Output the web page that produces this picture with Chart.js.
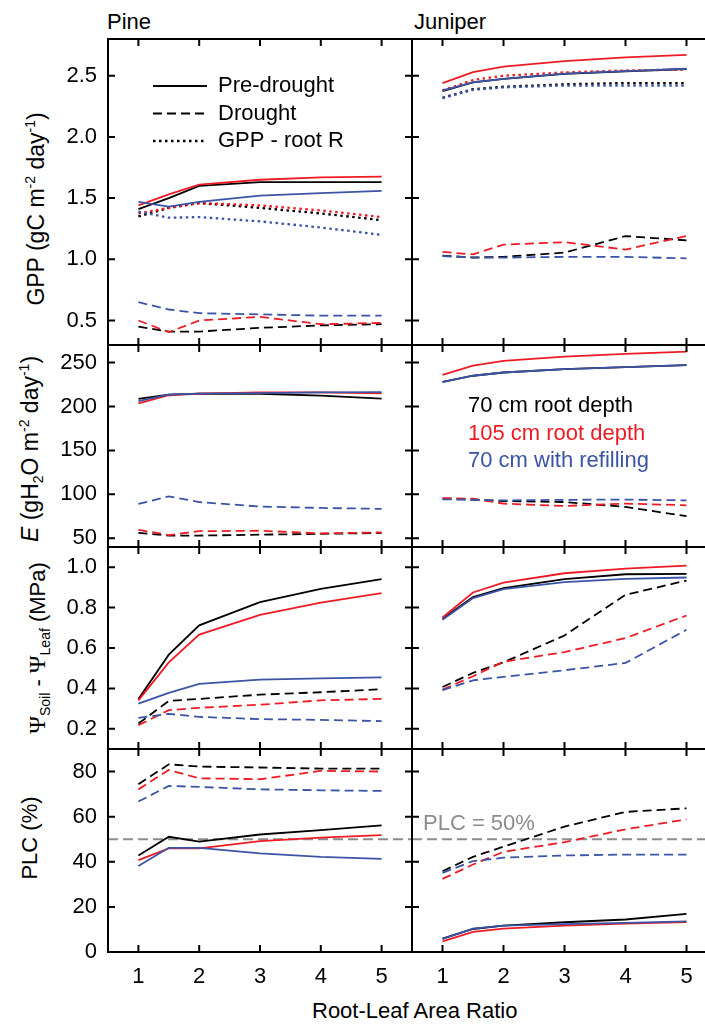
<!DOCTYPE html>
<html>
<head>
<meta charset="utf-8">
<script src="https://cdn.jsdelivr.net/npm/chart.js@4.4.1/dist/chart.umd.min.js"></script>
<style>
  html, body { margin: 0; padding: 0; background: #fff; overflow: hidden; }
  #page { position: relative; width: 705px; height: 1025px; overflow: hidden;
          font-family: 'Liberation Sans', Arial, sans-serif; color: #000; }
  #page canvas { position: absolute; }
  .lbl { position: absolute; font-size: 22px; line-height: 1; white-space: nowrap; }
  .ytitle { position: absolute; font-size: 22px; line-height: 1; white-space: nowrap;
            transform: translate(-50%, -50%) rotate(-90deg); }
  .big { font-size: 23px; }
  sup, sub { font-size: 14px; line-height: 0; }
  .psi { font-family: 'Liberation Serif', 'DejaVu Serif', serif; font-size: 24px; }
</style>
</head>
<body>
<div id="page">
  <div class="lbl" style="left:107px; top:11px">Pine</div>
  <div class="lbl" style="left:414px; top:11px">Juniper</div>
  <div class="ytitle big" style="left:36px; top:209px">GPP (gC m<sup>-2</sup> day<sup>-1</sup>)</div>
  <div class="ytitle big" style="left:30px; top:449px"><i>E</i> (gH<sub>2</sub>O m<sup>-2</sup> day<sup>-1</sup>)</div>
  <div class="ytitle" style="left:37px; top:648px"><span class="psi">&Psi;</span><sub>Soil</sub> - <span class="psi">&Psi;</span><sub>Leaf</sub> (MPa)</div>
  <div class="ytitle" style="left:30px; top:838px">PLC (%)</div>
  <div class="lbl" style="left:312px; top:1000px">Root-Leaf Area Ratio</div>
</div>
<script>
// root:leaf area ratios simulated
const RATIO = [1, 1.5, 2, 3, 4, 5];

// tick values
const X_TICKS = [1, 2, 3, 4, 5];
const GPP_TICKS = [0.5, 1.0, 1.5, 2.0, 2.5];
const E_TICKS = [50, 100, 150, 200, 250];
const PSI_TICKS = [0.2, 0.4, 0.6, 0.8, 1.0];
const PLC_TICKS = [0, 20, 40, 60, 80];

const PLC_THRESHOLD = 50;

const STYLE_LABELS = ['Pre-drought', 'Drought', 'GPP - root R'];
const SCENARIO_LABELS = ['70 cm root depth', '105 cm root depth', '70 cm with refilling'];

// GPP, pine
const pineGppPre70 = [1.41, 1.50, 1.60, 1.63, 1.63, 1.63];
const pineGppPre105 = [1.44, 1.53, 1.61, 1.65, 1.67, 1.675];
const pineGppPreRefill = [1.47, 1.43, 1.47, 1.52, 1.54, 1.56];
const pineGppDry70 = [0.45, 0.41, 0.41, 0.44, 0.46, 0.47];
const pineGppDry105 = [0.50, 0.405, 0.50, 0.53, 0.47, 0.48];
const pineGppDryRefill = [0.65, 0.59, 0.56, 0.55, 0.54, 0.54];
const pineGppNet70 = [1.35, 1.42, 1.46, 1.42, 1.375, 1.32];
const pineGppNet105 = [1.375, 1.42, 1.46, 1.44, 1.40, 1.345];
const pineGppNetRefill = [1.39, 1.34, 1.345, 1.31, 1.26, 1.20];

// GPP, juniper
const juniperGppPre70 = [2.375, 2.445, 2.475, 2.515, 2.535, 2.555];
const juniperGppPre105 = [2.44, 2.53, 2.575, 2.62, 2.65, 2.67];
const juniperGppPreRefill = [2.38, 2.445, 2.475, 2.517, 2.537, 2.557];
const juniperGppDry70 = [1.03, 1.015, 1.02, 1.055, 1.19, 1.155];
const juniperGppDry105 = [1.06, 1.04, 1.12, 1.14, 1.08, 1.19];
const juniperGppDryRefill = [1.027, 1.014, 1.014, 1.02, 1.02, 1.008];
const juniperGppNet70 = [2.32, 2.39, 2.41, 2.43, 2.44, 2.44];
const juniperGppNet105 = [2.38, 2.465, 2.50, 2.527, 2.543, 2.55];
const juniperGppNetRefill = [2.317, 2.385, 2.405, 2.42, 2.42, 2.42];

// transpiration E, pine
const pineEPre70 = [208.6, 213.5, 214.7, 214.5, 212.4, 209];
const pineEPre105 = [203.4, 212.8, 214.7, 216, 216, 215];
const pineEPreRefill = [206, 213.5, 214.7, 215.3, 216, 216.3];
const pineEDry70 = [56, 53, 53, 54, 55, 56];
const pineEDry105 = [59.6, 53.6, 58, 58.5, 55.5, 56.6];
const pineEDryRefill = [89, 97.6, 91.2, 86, 84.5, 83.4];

// transpiration E, juniper
const juniperEPre70 = [228, 235, 238.7, 242.5, 244.7, 247];
const juniperEPre105 = [236, 246.6, 251.9, 256.8, 259.8, 262.4];
const juniperEPreRefill = [227.8, 235, 238.7, 242.5, 244.7, 247];
const juniperEDry70 = [95, 93.9, 92.3, 91.2, 85.6, 75.1];
const juniperEDry105 = [95.7, 95, 89.4, 86.7, 89.4, 87.5];
const juniperEDryRefill = [94.3, 93.7, 93.1, 93.7, 94, 93.1];

// soil-leaf water potential drop, pine
const pinePsiPre70 = [0.348, 0.567, 0.712, 0.827, 0.893, 0.941];
const pinePsiPre105 = [0.341, 0.529, 0.666, 0.764, 0.825, 0.872];
const pinePsiPreRefill = [0.325, 0.378, 0.422, 0.443, 0.45, 0.455];
const pinePsiDry70 = [0.226, 0.338, 0.348, 0.369, 0.381, 0.396];
const pinePsiDry105 = [0.218, 0.292, 0.304, 0.319, 0.341, 0.348];
const pinePsiDryRefill = [0.254, 0.274, 0.259, 0.248, 0.244, 0.238];

// soil-leaf water potential drop, juniper
const juniperPsiPre70 = [0.745, 0.852, 0.896, 0.941, 0.965, 0.967];
const juniperPsiPre105 = [0.751, 0.875, 0.924, 0.970, 0.993, 1.008];
const juniperPsiPreRefill = [0.74, 0.847, 0.891, 0.926, 0.942, 0.949];
const juniperPsiDry70 = [0.407, 0.477, 0.529, 0.662, 0.863, 0.934];
const juniperPsiDry105 = [0.394, 0.46, 0.532, 0.58, 0.649, 0.761];
const juniperPsiDryRefill = [0.391, 0.44, 0.457, 0.49, 0.526, 0.69];

// percent loss of conductivity, pine
const pinePlcPre70 = [42.8, 51.1, 48.9, 52.1, 54, 56.1];
const pinePlcPre105 = [40.7, 45.9, 45.9, 49.2, 50.7, 51.8];
const pinePlcPreRefill = [38.1, 46.2, 46.2, 43.7, 42.2, 41.3];
const pinePlcDry70 = [74.4, 83.2, 82.2, 81.8, 81.3, 81.3];
const pinePlcDry105 = [72.1, 80.7, 77, 76.6, 80.3, 80];
const pinePlcDryRefill = [66.7, 73.6, 73.2, 72.1, 71.7, 71.4];

// percent loss of conductivity, juniper
const juniperPlcPre70 = [5.9, 10.2, 11.7, 13.2, 14.4, 16.9];
const juniperPlcPre105 = [4.7, 8.9, 10.4, 11.7, 12.6, 13.3];
const juniperPlcPreRefill = [5.8, 10.4, 11.7, 12.4, 12.9, 13.6];
const juniperPlcDry70 = [35.8, 42.2, 46.7, 55.6, 62.1, 63.7];
const juniperPlcDry105 = [32.4, 38.8, 44.4, 48.7, 54.4, 58.8];
const juniperPlcDryRefill = [35.1, 40.3, 41.8, 42.8, 43.2, 43.2];

// --- styling / layout ---
const FONT = '"Liberation Sans", Arial, sans-serif';
const SCENARIO_COLORS = ['#000000', '#ed1c24', '#3b54a5'];
const CONDITIONS = ['pre', 'drought', 'net'];
const DASH = { pre: [], drought: [9, 5], net: [2.5, 3.5] };
const WIDTH = { pre: 1.8, drought: 1.8, net: 2.3 };
const GREY = '#8c8c8c';
const TICK_LEN = 7;
const PAD = 6;

const X_RANGE = [0.5, 5.5];
const COL_EDGES = [[108, 412], [412, 717]];
const ROW_EDGES = [[39, 345], [345, 547], [547, 749], [749, 952]];
const ROW_AXES = [
  { min: 0.3, max: 2.8, ticks: GPP_TICKS, digits: 1 },
  { min: 40, max: 270, ticks: E_TICKS, digits: 0 },
  { min: 0.1, max: 1.1, ticks: PSI_TICKS, digits: 1 },
  { min: 0, max: 90, ticks: PLC_TICKS, digits: 0 }
];

function series(values, scenario, condition) {
  return {
    data: RATIO.map((x, i) => ({ x: x, y: values[i] })),
    borderColor: SCENARIO_COLORS[scenario],
    borderWidth: WIDTH[condition],
    borderDash: DASH[condition],
    pointRadius: 0,
    tension: 0,
    fill: false,
    order: 3 - scenario
  };
}

function group(condition, list) {
  return list.map((v, i) => series(v, i, condition));
}

// frame with inward ticks on all four sides
const framePlugin = {
  id: 'frame',
  afterDatasetsDraw(chart) {
    const ctx = chart.ctx, a = chart.chartArea, x = chart.scales.x, y = chart.scales.y;
    ctx.save();
    ctx.strokeStyle = '#000';
    ctx.lineWidth = 2;
    ctx.setLineDash([]);
    ctx.strokeRect(a.left, a.top, a.right - a.left, a.bottom - a.top);
    ctx.beginPath();
    x.ticks.forEach(t => {
      const px = x.getPixelForValue(t.value);
      ctx.moveTo(px, a.top); ctx.lineTo(px, a.top + TICK_LEN);
      ctx.moveTo(px, a.bottom); ctx.lineTo(px, a.bottom - TICK_LEN);
    });
    y.ticks.forEach(t => {
      const py = y.getPixelForValue(t.value);
      ctx.moveTo(a.left, py); ctx.lineTo(a.left + TICK_LEN, py);
      ctx.moveTo(a.right, py); ctx.lineTo(a.right - TICK_LEN, py);
    });
    ctx.stroke();
    ctx.restore();
  }
};

// line-style key (pine GPP panel)
const styleKey = {
  id: 'styleKey',
  afterDraw(chart) {
    const ctx = chart.ctx, a = chart.chartArea;
    ctx.save();
    ctx.font = '22px ' + FONT;
    ctx.textBaseline = 'middle';
    ctx.fillStyle = '#000';
    ctx.strokeStyle = '#000';
    STYLE_LABELS.forEach((label, i) => {
      const c = CONDITIONS[i];
      const yy = a.top + 47 + i * 27.5;
      ctx.lineWidth = WIDTH[c];
      ctx.setLineDash(DASH[c]);
      ctx.beginPath();
      ctx.moveTo(a.left + 45, yy);
      ctx.lineTo(a.left + 99, yy);
      ctx.stroke();
      ctx.fillText(label, a.left + 110, yy);
    });
    ctx.restore();
  }
};

// colour key (juniper E panel)
const colourKey = {
  id: 'colourKey',
  afterDraw(chart) {
    const ctx = chart.ctx, a = chart.chartArea;
    ctx.save();
    ctx.font = '22px ' + FONT;
    ctx.textBaseline = 'middle';
    SCENARIO_LABELS.forEach((label, i) => {
      ctx.fillStyle = SCENARIO_COLORS[i];
      ctx.fillText(label, a.left + 56, a.top + 61 + i * 27.6);
    });
    ctx.restore();
  }
};

// threshold caption (juniper PLC panel)
const thresholdNote = {
  id: 'thresholdNote',
  afterDraw(chart) {
    const ctx = chart.ctx, a = chart.chartArea;
    const py = chart.scales.y.getPixelForValue(PLC_THRESHOLD);
    ctx.save();
    ctx.font = '22px ' + FONT;
    ctx.textBaseline = 'middle';
    ctx.fillStyle = GREY;
    ctx.fillText('PLC = ' + PLC_THRESHOLD + '%', a.left + 11, py - 15);
    ctx.restore();
  }
};

function thresholdLine() {
  return {
    data: X_RANGE.map(x => ({ x: x, y: PLC_THRESHOLD })),
    borderColor: GREY,
    borderWidth: 2,
    borderDash: [10, 5],
    pointRadius: 0,
    fill: false,
    order: 10
  };
}

const panels = [
  { row: 0, col: 0, extra: [styleKey], datasets: [].concat(
      group('pre', [pineGppPre70, pineGppPre105, pineGppPreRefill]),
      group('drought', [pineGppDry70, pineGppDry105, pineGppDryRefill]),
      group('net', [pineGppNet70, pineGppNet105, pineGppNetRefill])) },
  { row: 0, col: 1, extra: [], datasets: [].concat(
      group('pre', [juniperGppPre70, juniperGppPre105, juniperGppPreRefill]),
      group('drought', [juniperGppDry70, juniperGppDry105, juniperGppDryRefill]),
      group('net', [juniperGppNet70, juniperGppNet105, juniperGppNetRefill])) },
  { row: 1, col: 0, extra: [], datasets: [].concat(
      group('pre', [pineEPre70, pineEPre105, pineEPreRefill]),
      group('drought', [pineEDry70, pineEDry105, pineEDryRefill])) },
  { row: 1, col: 1, extra: [colourKey], datasets: [].concat(
      group('pre', [juniperEPre70, juniperEPre105, juniperEPreRefill]),
      group('drought', [juniperEDry70, juniperEDry105, juniperEDryRefill])) },
  { row: 2, col: 0, extra: [], datasets: [].concat(
      group('pre', [pinePsiPre70, pinePsiPre105, pinePsiPreRefill]),
      group('drought', [pinePsiDry70, pinePsiDry105, pinePsiDryRefill])) },
  { row: 2, col: 1, extra: [], datasets: [].concat(
      group('pre', [juniperPsiPre70, juniperPsiPre105, juniperPsiPreRefill]),
      group('drought', [juniperPsiDry70, juniperPsiDry105, juniperPsiDryRefill])) },
  { row: 3, col: 0, extra: [], datasets: [].concat(
      group('pre', [pinePlcPre70, pinePlcPre105, pinePlcPreRefill]),
      group('drought', [pinePlcDry70, pinePlcDry105, pinePlcDryRefill]),
      [thresholdLine()]) },
  { row: 3, col: 1, extra: [thresholdNote], datasets: [].concat(
      group('pre', [juniperPlcPre70, juniperPlcPre105, juniperPlcPreRefill]),
      group('drought', [juniperPlcDry70, juniperPlcDry105, juniperPlcDryRefill]),
      [thresholdLine()]) }
];

const page = document.getElementById('page');

panels.forEach(p => {
  const [L, R] = COL_EDGES[p.col];
  const [T, B] = ROW_EDGES[p.row];
  const padL = p.col === 0 ? 72 : PAD;
  const padB = p.row === 3 ? 52 : PAD;
  const axis = ROW_AXES[p.row];

  const canvas = document.createElement('canvas');
  canvas.width = R - L + padL + PAD;
  canvas.height = B - T + PAD + padB;
  canvas.style.left = (L - padL) + 'px';
  canvas.style.top = (T - PAD) + 'px';
  page.appendChild(canvas);

  new Chart(canvas, {
    type: 'line',
    data: { datasets: p.datasets },
    options: {
      responsive: false,
      animation: false,
      events: [],
      layout: { padding: PAD },
      plugins: { legend: { display: false }, tooltip: { enabled: false } },
      scales: {
        x: {
          type: 'linear', min: X_RANGE[0], max: X_RANGE[1],
          grid: { display: false, drawTicks: false },
          border: { display: false },
          ticks: { display: p.row === 3, padding: 12, color: '#000',
                   font: { family: FONT, size: 22 }, callback: v => String(v) },
          afterBuildTicks: s => { s.ticks = X_TICKS.map(v => ({ value: v })); },
          afterFit: s => { s.height = padB - PAD; s.paddingLeft = 0; s.paddingRight = 0; }
        },
        y: {
          type: 'linear', min: axis.min, max: axis.max,
          grid: { display: false, drawTicks: false },
          border: { display: false },
          ticks: { display: p.col === 0, padding: 11, color: '#000',
                   font: { family: FONT, size: 22 }, callback: v => v.toFixed(axis.digits) },
          afterBuildTicks: s => { s.ticks = axis.ticks.map(v => ({ value: v })); },
          afterFit: s => { s.width = padL - PAD; s.paddingTop = 0; s.paddingBottom = 0; }
        }
      }
    },
    plugins: [framePlugin].concat(p.extra)
  });
});
</script>
</body>
</html>
